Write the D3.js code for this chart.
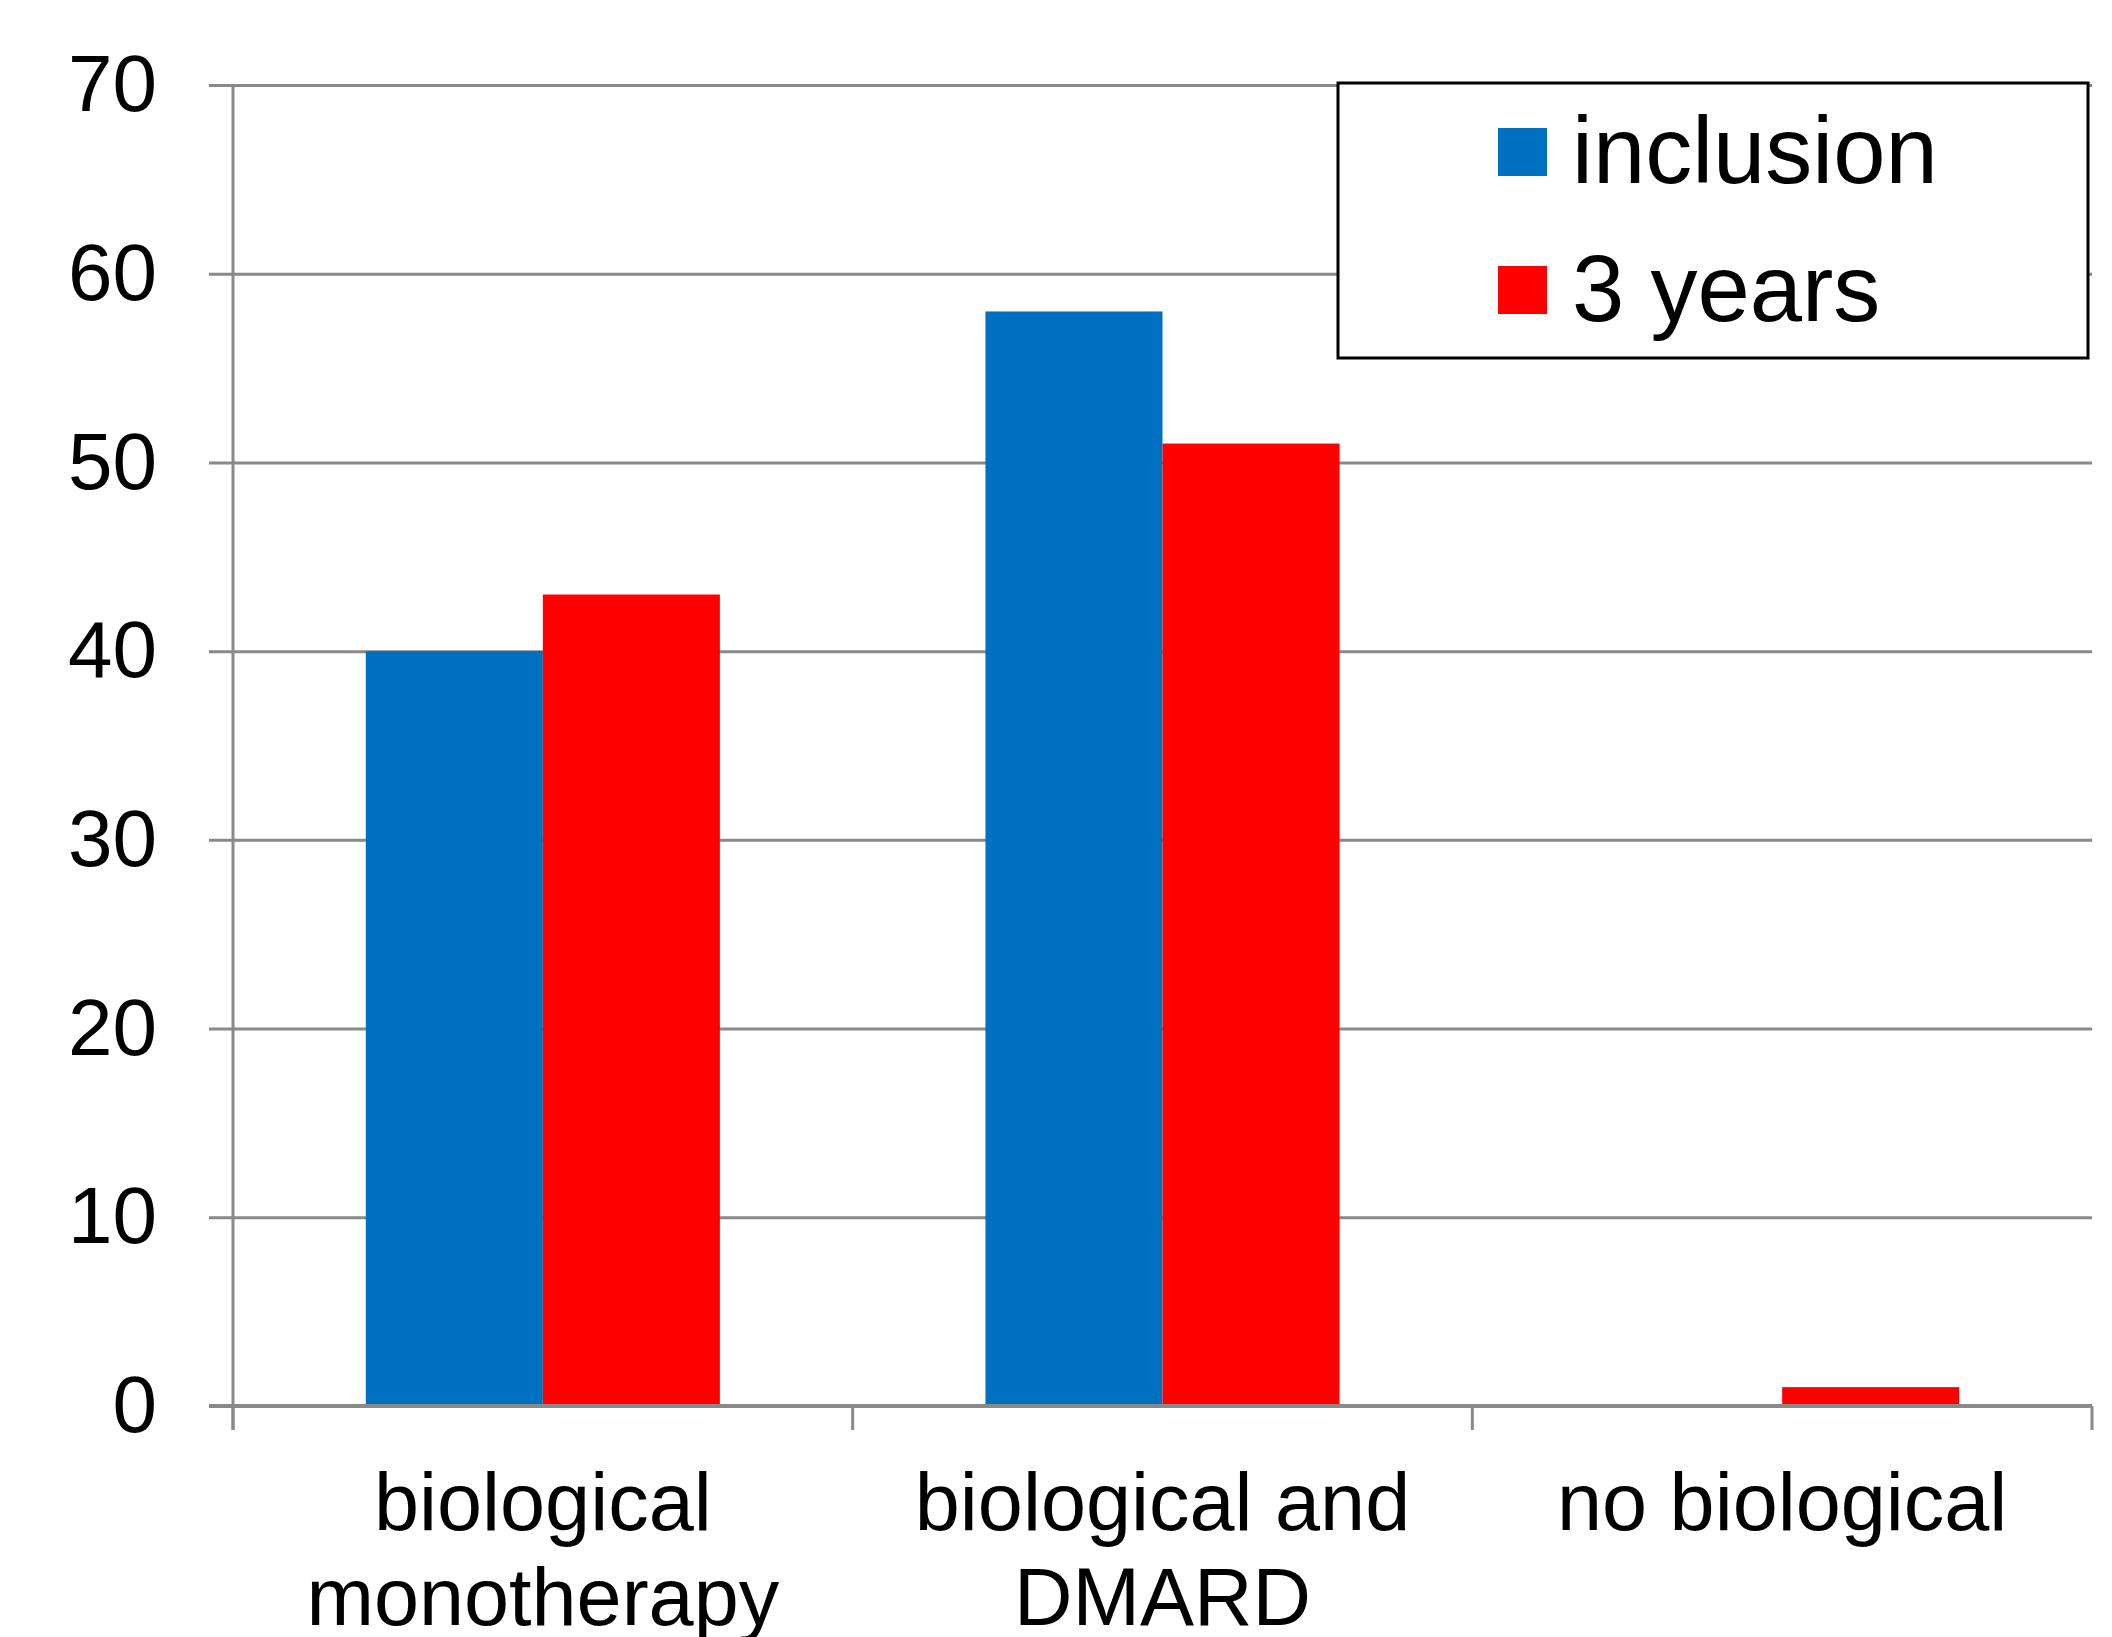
<!DOCTYPE html>
<html>
<head>
<meta charset="utf-8">
<script src="https://cdn.jsdelivr.net/npm/d3@7"></script>
<style>
  html, body { margin: 0; padding: 0; background: #ffffff; }
  svg { display: block; }
  text { font-family: "Liberation Sans", Arial, sans-serif; fill: #000; }
</style>
</head>
<body>
<svg id="chart" width="2112" height="1637"></svg>
<script>
// Treatment categories (each label may span two lines)
const categories = ["biological monotherapy", "biological and DMARD", "no biological"];
const categoryLines = [["biological", "monotherapy"], ["biological and", "DMARD"], ["no biological"]];

// Series
const seriesNames = ["inclusion", "3 years"];
const inclusionValues = [40, 58, 0];
const threeYearValues = [43, 51, 1];
const seriesColors = ["#0070C0", "#FF0000"];

// Y axis ticks
const yTicks = [0, 10, 20, 30, 40, 50, 60, 70];

const svg = d3.select("#chart");
const W = 2112, H = 1637;
svg.append("rect").attr("width", W).attr("height", H).attr("fill", "#ffffff");

const plotLeft = 233, plotRight = 2092, plotTop = 85, plotBottom = 1406;
const tickLen = 24;
const axisColor = "#898989";

const y = d3.scaleLinear().domain([0, 70]).range([plotBottom, plotTop]);
const x0 = d3.scaleBand().domain(categories).range([plotLeft, plotRight]).paddingInner(0).paddingOuter(0);
const x1 = d3.scaleBand().domain(seriesNames).range([0, x0.bandwidth()]).paddingInner(0).paddingOuter(0.75);

// Horizontal gridlines (including the tick stub left of the axis)
const grid = svg.append("g").attr("transform", `translate(${plotLeft},0)`)
  .call(d3.axisLeft(y).tickValues(yTicks).tickSize(-(plotRight - plotLeft)).tickFormat(""));
grid.select(".domain").remove();
grid.selectAll(".tick line")
  .attr("x1", -tickLen)
  .attr("stroke", axisColor).attr("stroke-width", 3);

// Bars
const rows = categories.map((c, i) => ({ cat: c, vals: [inclusionValues[i], threeYearValues[i]] }));
const groups = svg.append("g").selectAll("g").data(rows).join("g")
  .attr("transform", d => `translate(${x0(d.cat)},0)`);
groups.selectAll("rect")
  .data(d => d.vals.map((v, k) => ({ name: seriesNames[k], v, k })))
  .join("rect")
  .attr("x", d => x1(d.name))
  .attr("width", x1.bandwidth())
  .attr("y", d => y(d.v))
  .attr("height", d => y(0) - y(d.v))
  .attr("fill", d => seriesColors[d.k]);

// Y axis line and labels
const yAxis = svg.append("g").attr("transform", `translate(${plotLeft},0)`)
  .call(d3.axisLeft(y).tickValues(yTicks).tickSize(0).tickPadding(tickLen + 52).tickFormat(d3.format("d")));
yAxis.select(".domain").remove();
yAxis.selectAll(".tick text")
  .attr("font-size", 80)
  .attr("font-family", "'Liberation Sans', Arial, sans-serif")
  .attr("fill", "#000");
svg.append("line")
  .attr("x1", plotLeft).attr("x2", plotLeft)
  .attr("y1", plotTop).attr("y2", plotBottom + tickLen)
  .attr("stroke", axisColor).attr("stroke-width", 3);

// X axis line with ticks at category boundaries
svg.append("line")
  .attr("x1", plotLeft - tickLen).attr("x2", plotRight)
  .attr("y1", plotBottom).attr("y2", plotBottom)
  .attr("stroke", axisColor).attr("stroke-width", 4);
const boundaries = categories.map(c => x0(c)).concat([x0(categories[categories.length - 1]) + x0.bandwidth()]);
svg.append("g").selectAll("line").data(boundaries).join("line")
  .attr("x1", d => d).attr("x2", d => d)
  .attr("y1", plotBottom).attr("y2", plotBottom + tickLen)
  .attr("stroke", axisColor).attr("stroke-width", 3);

// Category labels
const catLabels = svg.append("g").selectAll("text").data(categories).join("text")
  .attr("text-anchor", "middle")
  .attr("font-size", 81)
  .attr("x", d => x0(d) + x0.bandwidth() / 2)
  .attr("y", plotBottom + 124);
catLabels.selectAll("tspan")
  .data((d, i) => categoryLines[i])
  .join("tspan")
  .attr("x", function () { return d3.select(this.parentNode).attr("x"); })
  .attr("dy", (d, i) => i === 0 ? 0 : 95)
  .text(d => d);

// Legend
const legend = svg.append("g");
legend.append("rect")
  .attr("x", 1338).attr("y", 83).attr("width", 750).attr("height", 275)
  .attr("fill", "#ffffff").attr("stroke", "#000").attr("stroke-width", 3);
const items = legend.selectAll("g.item").data(seriesNames).join("g")
  .attr("class", "item")
  .attr("transform", (d, i) => `translate(1498,${128 + i * 138})`);
items.append("rect")
  .attr("width", 49).attr("height", 48)
  .attr("fill", (d, i) => seriesColors[i]);
items.append("text")
  .attr("x", 74).attr("y", 55)
  .attr("font-size", 94)
  .text(d => d);
</script>
</body>
</html>
